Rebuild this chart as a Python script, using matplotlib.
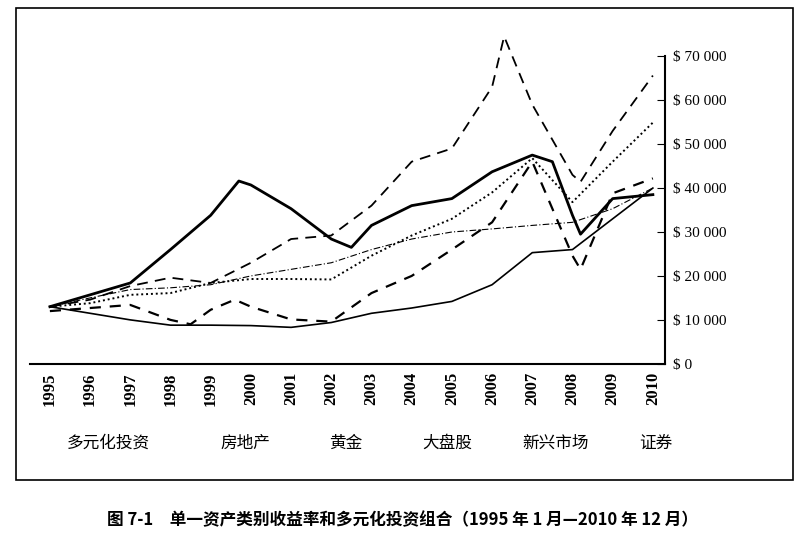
import matplotlib
matplotlib.use("Agg")
import matplotlib.pyplot as plt
from matplotlib.patches import Rectangle
import numpy as np

plt.rcParams['font.family'] = ['Noto Sans CJK SC', 'DejaVu Sans']

years = list(range(1995, 2011))
year_labels = [str(y) for y in years]
series_names = ["多元化投资", "房地产", "黄金", "大盘股", "新兴市场", "证券"]
div_x = [1995, 1996, 1997, 1998, 1999, 1999.7, 2000, 2001, 2002, 2002.5, 2003, 2004, 2005, 2006, 2007, 2007.5, 2008, 2008.2, 2009, 2010]
diversified = [13, 15.7, 18.4, 26, 33.8, 41.6, 40.7, 35.3, 28.4, 26.5, 31.5, 36, 37.6, 43.7, 47.5, 46, 33.8, 29.5, 37.6, 38.5]
re_x = [1995, 1996, 1997, 1998, 1999, 2000, 2001, 2002, 2003, 2004, 2005, 2006, 2006.3, 2007, 2008, 2008.2, 2009, 2010]
real_estate = [13, 14.6, 17.7, 19.6, 18.4, 23, 28.4, 29.2, 36, 46, 49, 63, 74.5, 59, 43, 41.4, 53, 65.6]
gold_x = [1995, 1996, 1997, 1998, 1998.5, 1999, 1999.6, 2000, 2001, 2002, 2003, 2004, 2005, 2006, 2007, 2008, 2008.2, 2009, 2010]
gold = [12, 12.7, 13.4, 10, 9, 12.3, 14.6, 13, 10.1, 9.6, 16.1, 20, 26, 32.2, 46, 24.6, 21.5, 38.8, 42.2]
large_cap = [13, 13.8, 15.7, 16.1, 18.4, 19.3, 19.3, 19.2, 24.6, 29.2, 33, 39, 46.8, 36.8, 46, 54.9]
emerging = [13, 15, 16.9, 17.3, 18, 20, 21.5, 23, 26, 28.4, 30, 30.7, 31.5, 32.2, 35.3, 40]
bonds = [13, 11.5, 10, 8.8, 8.8, 8.7, 8.3, 9.4, 11.5, 12.7, 14.2, 18, 25.3, 26, 33, 40]
yticks = [0, 10, 20, 30, 40, 50, 60, 70]
ytick_labels = ["$ 0", "$ 10 000", "$ 20 000", "$ 30 000", "$ 40 000", "$ 50 000", "$ 60 000", "$ 70 000"]

fig = plt.figure(figsize=(8.05, 5.39), dpi=100)
fig.patches.append(Rectangle((0.02, 0.11), 0.965, 0.875, transform=fig.transFigure,
                             fill=False, edgecolor='black', lw=1.2))
ax = fig.add_axes([0.037, 0.325, 0.789, 0.64])
x = np.array(years)
ax.plot(div_x, diversified, color='black', lw=2.0, ls='-')
ax.plot(re_x, real_estate, color='black', lw=1.3, ls=(0, (6, 4)))
ax.plot(gold_x, gold, color='black', lw=1.6, ls=(0, (5, 4)))
ax.plot(x, large_cap, color='black', lw=1.4, ls=(0, (1, 1.5)))
ax.plot(x, emerging, color='black', lw=0.8, ls=(0, (6, 2, 1, 2)))
ax.plot(x, bonds, color='black', lw=1.2, ls='-')

ax.set_xlim(1994.5, 2010.3)
ax.set_ylim(0, 78.5)
ax.spines['left'].set_visible(False)
ax.spines['top'].set_visible(False)
ax.spines['right'].set_linewidth(1.5)
ax.spines['bottom'].set_linewidth(1.5)
ax.yaxis.tick_right()
ax.set_yticks(yticks)
ax.set_yticklabels(ytick_labels, family=['Liberation Serif'], fontsize=11)
ax.tick_params(axis='y', direction='in', length=6, pad=6)
ax.spines['right'].set_bounds(0, 70)
ax.set_xticks(years)
ax.set_xticklabels(year_labels, rotation=90, family=['Liberation Serif'], fontsize=12, fontweight='bold')
ax.tick_params(axis='x', length=0, pad=6)

lx = [0.135, 0.305, 0.43, 0.555, 0.69, 0.815]
for name, px in zip(series_names, lx):
    fig.text(px, 0.177, name, ha='center', va='center', fontsize=12)
fig.text(0.5, 0.035, "图 7-1　单一资产类别收益率和多元化投资组合（1995 年 1 月—2010 年 12 月）",
         ha='center', va='center', fontsize=12, fontweight='bold')
fig.savefig("out.png", dpi=100)
